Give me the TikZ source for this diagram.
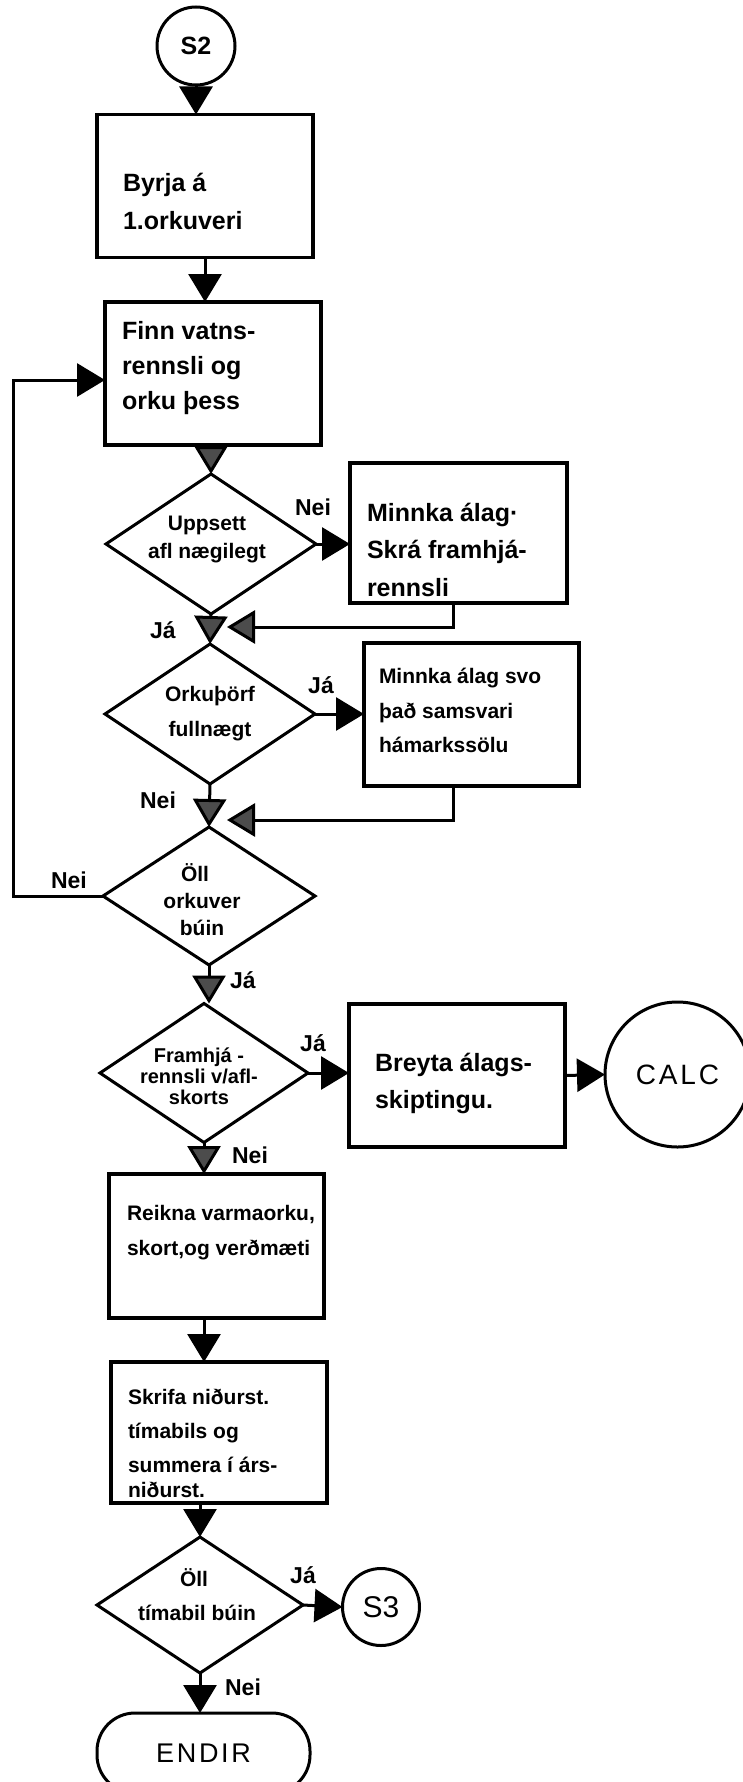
\documentclass[tikz,border=0pt]{standalone}
\usepackage{fontspec}
\setmainfont{Liberation Sans}
\newfontfamily\spacedfont[LetterSpace=10]{Liberation Sans}
\usetikzlibrary{arrows.meta,shapes.geometric,calc}

\begin{document}
\begin{tikzpicture}[x=1pt,y=-1pt,
  every node/.style={inner sep=0pt, outer sep=0pt},
  procbox/.style={draw, rectangle, line width=3.6pt, minimum width=216pt, minimum height=143pt},
  decision/.style={draw, diamond, line width=3pt},
  connector/.style={draw, circle, line width=3pt},
  terminal/.style={draw, rectangle, rounded corners=38pt, line width=3pt, minimum width=213pt, minimum height=80pt},
  flow/.style={line width=3pt, -{Triangle[width=33pt,length=28pt]}},
  merge/.style={line width=3pt, -{Triangle[width=33pt,length=28pt,fill=black!70]}},
  bigtext/.style={anchor=west, align=left, font=\bfseries\fontsize{25}{37}\selectfont},
  smalltext/.style={anchor=west, align=left, font=\bfseries\fontsize{21}{35}\selectfont},
  dectext/.style={align=center, font=\bfseries\fontsize{21}{28}\selectfont},
  answer/.style={font=\bfseries\fontsize{23}{23}\selectfont}
]
\useasboundingbox (0,0) rectangle (743,1782);
\fill[white] (0,0) rectangle (743,1782);

% ---- main column ----
\node[connector, minimum size=78pt, font=\bfseries\fontsize{25}{25}\selectfont] (s2) at (196,46) {S2};

\node[procbox] (b1) at (205,186) {};
\node[bigtext, font=\bfseries\fontsize{25}{38}\selectfont] (t1) at (123,201) {Byrja á\\1.orkuveri};

\node[procbox] (b2) at (213,373.5) {};
\node[bigtext, font=\bfseries\fontsize{25}{35}\selectfont] (t2) at (122,368) {Finn vatns-\\rennsli og\\orku þess};

\node[decision, minimum width=210pt, minimum height=140pt] (d1) at (211,544) {};
\node[dectext] (dt1) at (207,539) {Uppsett\\afl nægilegt};

\node[procbox, minimum width=217pt, minimum height=140pt] (b3) at (458.5,533) {};
\node[bigtext, font=\bfseries\fontsize{25}{37.5}\selectfont] (t3) at (367,549.5) {Minnka álag·\\Skrá framhjá-\\rennsli};

\node[decision, minimum width=210pt, minimum height=140pt] (d2) at (210,714) {};
\node[dectext, font=\bfseries\fontsize{21}{35}\selectfont] (dt2) at (210,714) {Orkuþörf\\fullnægt};

\node[procbox, minimum width=215pt] (b4) at (471.5,714.5) {};
\node[smalltext, font=\bfseries\fontsize{21}{34.5}\selectfont] (t4) at (379,710.5) {Minnka álag svo\\það samsvari\\hámarkssölu};

\node[decision, minimum width=212pt, minimum height=138pt] (d3) at (209,896) {};
\node[dectext, font=\bfseries\fontsize{21}{27}\selectfont] (dt3) at (202,900) {Öll\hspace*{14pt}\\orkuver\\búin};

\node[decision, minimum width=208pt, minimum height=139pt] (d4) at (204,1073) {};
\node[dectext, font=\bfseries\fontsize{20}{21}\selectfont] (dt4) at (199,1076) {Framhjá -\\rennsli v/afl-\\skorts};

\node[procbox] (b5) at (457,1075.5) {};
\node[bigtext] (t5) at (375,1083.5) {Breyta álags-\\skiptingu.};

\node[connector, minimum size=145pt, font=\spacedfont\fontsize{28}{28}\selectfont] (calc) at (677.5,1074.5) {CALC};

\node[procbox, minimum width=215pt, minimum height=144pt] (b6) at (216.5,1246) {};
\node[smalltext] (t6) at (127,1232.5) {Reikna varmaorku,\\skort,og verðmæti};

\node[procbox, minimum height=141pt] (b7) at (219,1432.5) {};
\node[smalltext, font=\bfseries\fontsize{21}{34}\selectfont] (t7) at (128,1443.5) {Skrifa niðurst.\\tímabils og\\summera í árs-\\[-9pt]niðurst.};

\node[decision, minimum width=206pt, minimum height=136pt] (d5) at (200,1605) {};
\node[dectext, font=\bfseries\fontsize{21}{34}\selectfont] (dt5) at (197,1595) {Öll\hspace*{6pt}\\tímabil búin};

\node[connector, minimum size=77pt, font=\fontsize{30}{30}\selectfont] (s3) at (381,1607) {S3};

\node[terminal, font=\spacedfont\fontsize{27}{27}\selectfont] (endir) at (203.5,1753) {ENDIR};

% ---- answer labels ----
\node[answer] (l1) at (313,507) {Nei};
\node[answer] (l2) at (163,630) {Já};
\node[answer] (l3) at (321,685) {Já};
\node[answer] (l4) at (158,800) {Nei};
\node[answer] (l5) at (69,880) {Nei};
\node[answer] (l6) at (243,980) {Já};
\node[answer] (l7) at (313,1043) {Já};
\node[answer] (l8) at (250,1155) {Nei};
\node[answer] (l9) at (303,1575) {Já};
\node[answer] (l10) at (243,1687) {Nei};

% ---- connectors ----
\draw[flow] (s2.south) -- (s2.south |- b1.north);
\draw[flow] (b1.south) -- (b1.south |- b2.north);
\draw[merge] (d1.north |- b2.south) -- (d1.north);
\draw[flow] (d1.east) -- (d1.east -| b3.west);
\draw[merge] (d1.south) -- (d2.north);
\coordinate (m1) at (227,627);
\draw[merge] ($(b3.south)+(-5.5,0)$) |- (m1);
\draw[flow] (d2.east) -- (d2.east -| b4.west);
\draw[merge] (d2.south) -- (d3.north);
\coordinate (m2) at (227,820);
\draw[merge] ($(b4.south)+(-18.5,0)$) |- (m2);
\coordinate (lc) at (13,896);
\draw[flow] (d3.west) -- (lc) |- ($(b2.west)+(0,6.5)$);
\draw[merge] (d3.south) -- (d3.south |- d4.north);
\draw[flow] (d4.east) -- (d4.east -| b5.west);
\draw[flow] (b5.east) -- (calc.west);
\draw[merge] (d4.south) -- (d4.south |- b6.north);
\draw[flow] (b6.south -| d4.south) -- (b7.north -| d4.south);
\draw[flow] (d5.north |- b7.south) -- (d5.north);
\draw[flow] (d5.east) -- (s3.west);
\draw[flow] (d5.south) -- (d5.south |- endir.north);
\end{tikzpicture}
\end{document}
